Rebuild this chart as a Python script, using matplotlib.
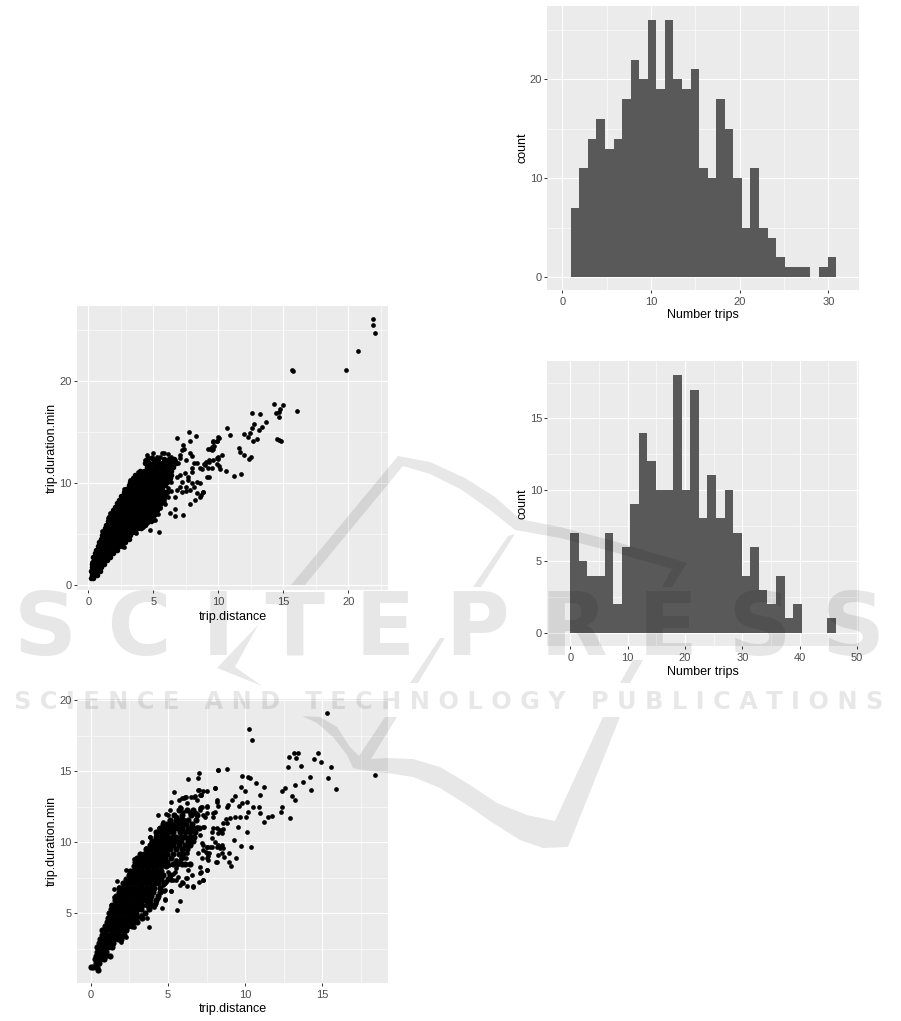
import matplotlib
matplotlib.use("Agg")
import matplotlib.pyplot as plt
from matplotlib.patches import Polygon
from matplotlib.transforms import Affine2D

plt.rcParams['font.family'] = ['Liberation Sans', 'DejaVu Sans']

# ---- histograms -----
trips_a_counts = [7, 11, 14, 16, 13, 14, 18, 22, 20, 26, 19, 26, 20, 19, 21, 11,
                  10, 18, 15, 10, 5, 11, 5, 4, 2, 1, 1, 1, 0, 1, 2]
trips_a_start, trips_a_width = 0.95, 0.965
trips_b_counts = [7, 5, 4, 4, 7, 2, 6, 9, 14, 12, 10, 10, 18, 10, 17, 8,
                  11, 8, 10, 7, 4, 6, 3, 2, 4, 1, 2, 0, 0, 0, 1]
trips_b_start, trips_b_width = 0.0, 1.495

# ---- scatter A: rows of the solid cloud, (duration, [distances]) -----
cloud_a = [
 (0.7,[.22,.38]),(1.05,[.25,.48,.68]),(1.4,[.22,.42,.68,.88]),(1.75,[.25,.52,.78,1.0]),
 (2.1,[.3,.55,.82,1.08,1.22]),(2.45,[.42,.68,.95,1.2,1.42]),(2.8,[.4,.65,.92,1.2,1.48,1.65]),
 (3.15,[.55,.82,1.1,1.38,1.66,1.9]),(3.5,[.62,.9,1.18,1.46,1.74,2.02,2.2]),
 (3.85,[.72,1.0,1.28,1.56,1.84,2.12,2.4,2.62]),(4.2,[.85,1.13,1.41,1.69,1.97,2.25,2.53,2.8]),
 (4.55,[.95,1.23,1.51,1.79,2.07,2.35,2.63,2.91,3.1]),(4.9,[1.02,1.3,1.58,1.86,2.14,2.42,2.7,2.98,3.22]),
 (5.25,[1.12,1.4,1.68,1.96,2.24,2.52,2.8,3.08,3.36,3.62]),
 (5.6,[1.28,1.56,1.84,2.12,2.4,2.68,2.96,3.24,3.52,3.8,4.05]),
 (5.95,[1.36,1.64,1.92,2.2,2.48,2.76,3.04,3.32,3.6,3.88,4.16,4.4]),
 (6.3,[1.5,1.78,2.06,2.34,2.62,2.9,3.18,3.46,3.74,4.02,4.3,4.58,4.85]),
 (6.65,[1.6,1.88,2.16,2.44,2.72,3.0,3.28,3.56,3.84,4.12,4.4,4.68,4.96]),
 (7.0,[1.78,2.06,2.34,2.62,2.9,3.18,3.46,3.74,4.02,4.3,4.58,4.86,5.14]),
 (7.35,[1.92,2.2,2.48,2.76,3.04,3.32,3.6,3.88,4.16,4.44,4.72,5.0,5.28]),
 (7.7,[2.08,2.36,2.64,2.92,3.2,3.48,3.76,4.04,4.32,4.6,4.88,5.16,5.44]),
 (8.05,[2.2,2.48,2.76,3.04,3.32,3.6,3.88,4.16,4.44,4.72,5.0,5.28,5.56]),
 (8.4,[2.38,2.66,2.94,3.22,3.5,3.78,4.06,4.34,4.62,4.9,5.18,5.46,5.74]),
 (8.75,[2.55,2.83,3.11,3.39,3.67,3.95,4.23,4.51,4.79,5.07,5.35,5.63,5.9]),
 (9.1,[2.72,3.0,3.28,3.56,3.84,4.12,4.4,4.68,4.96,5.24,5.52,5.8,6.05]),
 (9.45,[2.9,3.18,3.46,3.74,4.02,4.3,4.58,4.86,5.14,5.42,5.7]),
 (9.8,[3.1,3.38,3.66,3.94,4.22,4.5,4.78,5.06,5.34,5.62,5.9]),
 (10.15,[3.22,3.5,3.78,4.06,4.34,4.62,4.9,5.18,5.46,5.74,6.02]),
 (10.5,[3.45,3.73,4.01,4.29,4.57,4.85,5.13,5.41,5.69,5.97,6.25]),
 (10.85,[3.6,3.88,4.16,4.44,4.72,5.0,5.28,5.56,5.84,6.12,6.4]),
 (11.2,[4.0,4.28,4.56,4.84,5.12,5.4,5.7,6.0,6.35]),
 (11.55,[4.55,4.85,5.2,5.5,5.85,6.2,6.55]),
 (12.0,[4.4,4.7,5.05,5.35,5.7,6.05,6.4,6.75]),
 (12.4,[4.5,5.0,5.4,5.8,6.2,6.6]),
]
# (distance, duration) of the points that stand apart
loose_a = [
 (2.75,9.4),(1.7,7.05),(1.08,5.35),(.25,2.3),(5.45,5.25),(6.65,7.5),(6.25,7.05),(6.65,6.75),(7.25,6.9),
 (6.85,14.4),(7.75,15),(8.3,14.6),(7.85,14.1),(7.3,13.75),(7.2,13.3),(7.05,12.8),(7.35,13.4),(7.05,12.45),
 (7.55,12.3),(7.8,12.95),(7.95,12.7),(4.5,12.8),(5,13),(4.7,12.45),(5.5,12.6),(5.8,12.95),(6.1,12.9),
 (5.1,12),(4.5,11.8),(5,11.5),(5.75,12),(6.4,12.6),(6.65,12.3),(6.9,12),(5.4,12.3),(6.15,12.3),
 (6.4,10.15),(6.8,10.65),(7.05,10.8),(7.45,11),(7.7,10.65),(7.95,11.15),(8.35,12),(8.1,12),(7.95,11.5),
 (8.6,11.5),(9,11.8),(9.25,12.1),(9.6,12.3),(10,12.6),(9.25,10.65),(9.6,13.4),(9.9,14.1),(9.5,13.6),
 (10,14.5),(9.6,14.1),(9.35,13.35),(8.35,10.15),(7.95,10),(7.7,10.3),(8.1,9.65),(7.55,9.65),(7.2,10.15),
 (7.05,9.65),(6.8,9.35),(6.4,9.2),(6.15,9.5),(6.15,8.7),(6.65,8.7),(7.2,9.1),(7.55,9.2),(7.85,9.3),
 (8.35,9),(8.85,9.1),(8.6,8.7),(8.2,8.35),(7.85,7.95),(5.9,8),(5.8,8.5),(5.5,7.7),(5.4,7),(5,6.4),
 (21.9,26.1),(21.9,25.5),(22.05,24.7),(20.75,22.95),(19.8,21.1),(15.77,21.05),(15.7,21.1),
 (14.28,17.75),(14.95,17.65),(14.74,17.25),(14.7,17.0),(14.44,16.85),(14.67,16.45),(16.05,17.05),
 (12.56,16.9),(13.2,16.75),(13.67,16),(12.77,15.85),(13.4,15.55),(12.6,15.4),(13.15,15.2),(12.44,14.9),
 (11.97,14.8),(12.3,14.57),(12.95,14.35),(12.64,14.1),(14.54,14.3),(14.69,14.2),(14.82,14.1),(10.67,15.4),
 (10.92,14.7),(10.05,14.45),(9.87,14.1),(9.62,14),(9.67,13.65),(9.54,13.25),(9.23,13.36),(11.59,13.46),
 (11.67,13.1),(11.95,12.77),(12.49,12.6),(12.36,12.4),(10.31,12.77),(9.87,12.5),(10,12.4),(9.31,12.3),
 (9.05,12.1),(8.9,11.9),(9.87,11.85),(10.08,11.7),(10.13,11.37),(10.59,11.17),(9.54,11.47),(9.18,11.53),
 (8.72,11.37),(9.1,10.6),(11.18,10.75),(11.77,10.9),(8.85,9.1),(8.67,8.82),(8.6,10.07),
 (2.77,3.8),(3.7,5.1),(4.2,5.75),(4.5,6.1),(5.1,6.4),(5.2,7.05),(5.8,8.2),(5.5,7.55),(4.75,5.4),
 (1.54,6.55),(2.2,7.7),(2.45,8.2),(3.2,10.3),(3.35,10.15),(3.85,11.1),(4.1,11.15),(4.36,12.3),(4.87,12.6),
 (5.26,12.6),(5.64,12.95),
]

# ---- scatter B -----
cloud_b = [
 (1.2,[.02,.12,.39]),(1.0,[.5]),(1.5,[.35,.55]),(1.75,[.3,.6,.85]),(2.0,[.35,.55,.75,.95,1.25]),
 (2.3,[.42,.65,.8,1.0]),(2.6,[.4,.6,.75,.95,1.1,1.35]),(2.9,[.55,.7,.95,1.2,1.45]),
 (3.2,[.6,.75,1.0,1.2,1.5,1.75,1.95]),(3.5,[.7,.9,1.2,1.4,1.65,1.85,2.15]),
 (3.8,[.75,1.0,1.3,1.55,1.8,2.05,2.3]),(4.1,[.9,1.15,1.4,1.6,1.9,2.15,2.4,2.7]),
 (4.4,[1.05,1.25,1.5,1.75,2,2.25,2.5,2.8,3.0]),(4.7,[1.15,1.4,1.65,1.9,2.15,2.4,2.65,2.85,3.3]),
 (5.0,[1.2,1.45,1.7,1.95,2.2,2.45,2.7,2.95,3.5]),(5.3,[1.3,1.5,1.75,2,2.25,2.5,2.75,3.0,3.25,3.75]),
 (5.6,[1.4,1.65,1.9,2.15,2.4,2.65,2.9,3.15,3.35,3.65,3.95]),
 (5.9,[1.55,1.8,2.05,2.3,2.55,2.8,3.05,3.3,3.55,3.85,4.2]),
 (6.2,[1.65,1.9,2.15,2.4,2.65,2.9,3.15,3.4,3.65,3.9,4.35]),
 (6.5,[1.8,2.05,2.3,2.55,2.8,3.05,3.3,3.55,3.8,4.05,4.5]),
 (6.8,[1.85,2.1,2.35,2.6,2.85,3.1,3.35,3.6,3.85,4.1,4.5]),
 (7.1,[2.1,2.35,2.6,2.85,3.1,3.35,3.6,3.85,4.1,4.35,4.75]),
 (7.4,[2.3,2.55,2.8,3.05,3.3,3.55,3.8,4.05,4.3,4.55,5.0]),
 (7.7,[2.45,2.7,2.95,3.2,3.45,3.7,3.95,4.2,4.45,4.7,5.15]),
 (8.0,[2.55,2.8,3.05,3.3,3.55,3.8,4.05,4.3,4.55]),
 (8.3,[2.8,3.05,3.3,3.55,3.8,4.05,4.3,4.55,4.85]),
 (8.6,[2.85,3.1,3.35,3.6,3.85,4.1,4.35,4.6,4.95]),
 (8.9,[3.0,3.25,3.5,3.75,4,4.25,4.5,4.8,5.2]),
 (9.2,[3.2,3.45,3.7,3.95,4.2,4.45,4.7,4.95,5.3,5.7,6.0]),
 (9.5,[3.6,3.85,4.1,4.35,4.6,4.85,5.1,5.55,5.9,6.2]),
 (9.8,[3.85,4.1,4.35,4.6,4.85,5.1,5.35,5.7,6.1,6.4]),
 (10.1,[3.95,4.2,4.45,4.7,4.95,5.2,5.5,5.85,6.3,6.6]),
 (10.4,[4.2,4.45,4.7,4.95,5.25,5.5,5.85,6.1,6.4,6.7]),
 (10.7,[4.25,4.55,4.8,5.0,5.35,5.75,6.1,6.45,6.75]),
 (11.0,[4.5,4.75,5.05,5.3,5.6,5.9,6.3,6.6,7.0]),
 (11.3,[4.7,4.95,5.25,5.55,5.85,6.15,6.55]),
 (11.6,[5.1,5.55,5.8,6.0,6.3,6.8]),
 (11.9,[5.4,5.9,6.5,6.9]),
 (12.3,[5.7,6.2,6.6]),
 (8.5,[5.3,5.6,5.9,6.1,6.4]),
]
loose_b = [
 (15.29,19.13),(10.24,17.98),(10.44,17.2),(18.4,14.75),(13.18,16.3),(13.39,16.27),(12.85,16.04),(13.31,15.94),
 (14.73,16.27),(14.47,15.87),(14.9,15.66),(12.74,15.28),(13.59,15.4),(15.53,15.28),(15.35,14.5),(14.19,14.58),
 (13.74,14.25),(13.2,14.04),(15.87,13.78),(14.25,13.66),(12.57,13.83),(12.4,13.62),(13.02,13.24),(13.2,13),
 (11.19,13.9),(10.98,13.31),(10.69,14.16),(10.31,14.51),(10.15,14.63),(9.81,14.65),(9.75,13.9),(9.98,13.62),
 (8.26,15.1),(8.82,15.17),(8.04,13.83),(7.52,13.62),(7.13,13.34),(9.34,13.24),(9.16,12.96),(8.19,12.96),
 (10.09,12.82),(9.77,12.77),(9.62,12.58),(8.9,12.63),(8.8,12.51),(8.26,12.58),(7.5,12.58),(7.18,12.51),
 (10.48,12.51),(10.87,12.51),(12.36,12.47),(12.29,12.16),(10.2,12.12),(10.98,12.05),(11.73,11.88),(11.47,11.76),
 (10.03,11.81),(11.23,11.46),(12.9,11.69),(9.66,11.76),(9.34,11.76),(9,11.69),(8.73,11.62),(8.8,11.34),
 (8.58,11.34),(8.04,12.12),(7.93,11.81),(7.5,12.05),(7.39,11.81),(7.33,11.1),(9.51,11.1),(10.09,10.75),
 (9.29,10.17),(9.75,9.77),(10.37,9.65),(8.97,9.23),(9.4,8.92),(8.95,8.6),(9.08,8.36),(8.08,8.64),(7.54,8.88),
 (7.5,8.05),(7.29,7.35),(7.18,8.88),(7.13,7.94),(7.93,11),(8.15,11.04),(8.36,10.87),(8.58,10.92),(8.26,10.68),
 (8.47,10.64),(7.83,10.75),(7.83,10.28),(8.04,10.05),(8.26,9.81),(8.47,9.81),(8.58,9.58),(8.36,9.58),(8.15,9.7),
 (8.47,9.23),(8.26,9.11),(8.62,8.99),(7.72,9.7),(7.5,9.7),(7.29,9.81),(7.46,9.34),(7.67,9.23),(7.61,9),(7.24,9.46),
 (3.3,10.05),(3.84,10.92),(3.84,10.4),(4.38,11.93),(4.88,11.97),(5.2,12.82),(5.41,13.57),(6.32,14.44),(6.97,14.5),
 (7.03,14.91),(8.22,15.1),(8.05,13.85),(6.97,13.69),(7.29,13.62),(6.75,13.27),(7.08,13.34),(6.1,13.22),(5.89,13.1),
 (6.21,12.75),(6.86,12.98),(5.78,12.51),(5.13,12.28),(5.57,11.81),(6,12.16),(6.43,12.04),(6.75,12.04),(7.08,12.4),
 (7.51,12.51),(7.29,11.93),(7.94,12.04),(8.15,12.87),(6.1,11.46),(6.43,10.87),(6.86,11.1),(7.29,11.1),(7.08,10.52),
 (7.18,9.93),(7.51,9.7),(7.83,9.7),(6.97,9.23),(7.51,9.23),(7.62,8.76),(8.15,8.64),(6.21,9.23),(5.78,8.76),
 (5.57,8.52),(6,8.88),(6.32,8.05),(7.08,8.29),(7.51,8.05),(7.08,7.87),(6.54,7.7),(6.21,7.47),(5.89,7.23),(6.21,6.93),
 (6.6,6.88),(7.03,7.19),(7.29,7.35),(5.78,7),(5.46,7.94),(5.13,7.47),(4.81,7.23),(5.35,7.35),(5.67,7.58),(4.81,6.65),
 (5.18,6.6),(4.81,6.0),(5.78,5.87),(5.59,5.24),(4.6,5.38),(3.77,4.06),(3.62,4.65),(4.16,5.59),(3.84,5.59),(4.38,6.06),
 (5.52,8.75),(5.85,8.87),(6.17,8.91),(5.41,8.51),(1.7,7.27),(1.49,6.68),(1.53,6.17),(1.32,5.58),(2.29,8.05),
 (2.83,8.82),(3.86,10.35),(4.83,5.93),(4.77,6.59),(5.2,6.59),
 (1.96,3.0),(2.29,3.35),(2.83,4.05),(3.04,4.76),(3.26,4.88),(4.12,5.46),(3.9,5.7),(4.23,5.7),(4.55,6.64),(4.66,7.0),
 (4.88,7.2),(5.2,7.34),(4.98,7.93),(5.3,7.8),(5.52,8.16),(5.09,8.4),(5.52,7.34),(5.95,7.1),(6.17,7.46),(6.6,6.92),
 (2.93,8.87),(2.5,7.8),(2.29,7.34),(1.85,6.87),(3.19,9.2),(3.58,9.57),(3.9,9.92),(4.23,10.5),(4.44,10.98),(4.7,11.45),
 (4.98,11.92),(5.52,11.75),(5.85,12.4),(6.06,13.1),(5.74,12.97),(6.17,13.2),(6.49,13.2),(7.08,12.27),(6.49,12.04),
 (6.82,12.04),(7.14,12.5),(6.71,13.2),(7.14,13.3),(7,13.7),
]

def unpack_rows(rows):
    return [x for _, r in rows for x in r], [y for y, r in rows for _ in r]

W, H = 901, 1021
fig = plt.figure(figsize=(W / 100, H / 100), dpi=100, facecolor='white')

def panel(left, top, right, bottom, xlim, ylim, xt, xm, yt, ym, xl, yl, xl_y, yl_x):
    ax = fig.add_axes([left / W, 1 - bottom / H, (right - left) / W, (bottom - top) / H])
    ax.set_facecolor('#EBEBEB')
    for s in ax.spines.values():
        s.set_visible(False)
    ax.set_xlim(*xlim); ax.set_ylim(*ylim)
    ax.set_xticks(xt); ax.set_xticks(xm, minor=True)
    ax.set_yticks(yt); ax.set_yticks(ym, minor=True)
    ax.grid(True, which='major', color='white', lw=0.8)
    ax.grid(True, which='minor', color='white', lw=0.4)
    ax.set_axisbelow(True)
    ax.tick_params(which='major', length=2.2, width=0.7, color='#333333',
                   labelcolor='#4D4D4D', labelsize=8)
    ax.tick_params(axis='x', which='major', pad=3.0)
    ax.tick_params(axis='y', which='major', pad=1.6)
    ax.tick_params(which='minor', length=0)
    ax.set_xlabel(xl, fontsize=9, color='black', va='center')
    ax.set_ylabel(yl, fontsize=9, color='black', va='center')
    ax.xaxis.set_label_coords(0.5, (bottom - xl_y) / (bottom - top))
    ax.yaxis.set_label_coords((yl_x - left) / (right - left), 0.5)
    return ax

# top-right histogram
ax1 = panel(547.3, 6, 859, 290, (-1.69, 33.45), (-1.3, 27.42),
            [0, 10, 20, 30], [5, 15, 25], [0, 10, 20], [5, 15, 25], 'Number trips', 'count', 315, 522)
ax1.bar([trips_a_start + i * trips_a_width for i in range(len(trips_a_counts))], trips_a_counts,
        width=trips_a_width, align='edge', color='#595959', lw=0)

# second histogram
ax2 = panel(547.3, 361, 859, 645.7, (-4.0, 50.36), (-0.91, 19.01),
            [0, 10, 20, 30, 40, 50], [5, 15, 25, 35, 45], [0, 5, 10, 15], [2.5, 7.5, 12.5, 17.5],
            'Number trips', 'count', 672, 522)
ax2.bar([trips_b_start + i * trips_b_width for i in range(len(trips_b_counts))], trips_b_counts,
        width=trips_b_width, align='edge', color='#595959', lw=0)

# scatter A
ax3 = panel(76.7, 306, 388.3, 590, (-0.89, 23.08), (-0.46, 27.38),
            [0, 5, 10, 15, 20], [2.5, 7.5, 12.5, 17.5, 22.5], [0, 10, 20], [5, 15, 25],
            'trip.distance', 'trip.duration.min', 617, 52)
xa, ya = unpack_rows(cloud_a)
ax3.scatter(xa, ya, s=16, c='black', linewidths=0)
ax3.scatter([p[0] for p in loose_a], [p[1] for p in loose_a], s=11.5, c='black', linewidths=0)

# scatter B
ax4 = panel(76.7, 699.3, 388.3, 982.7, (-0.906, 19.26), (0.11, 20.07),
            [0, 5, 10, 15], [2.5, 7.5, 12.5, 17.5], [5, 10, 15, 20], [2.5, 7.5, 12.5, 17.5],
            'trip.distance', 'trip.duration.min', 1009, 52)
xb, yb = unpack_rows(cloud_b)
ax4.scatter(xb, yb, s=20, c='black', linewidths=0)
ax4.scatter([p[0] for p in loose_b], [p[1] for p in loose_b], s=11.5, c='black', linewidths=0)

# ---- watermark laid over everything -----
wm = dict(color='black', alpha=0.095, zorder=20)
px = Affine2D().scale(1, -1).translate(0, H)
logo_shapes = [
    [(291,585),(398,456),(430,462),(465,478),(495,497),(520,519),(560,527),(610,540),(687,563),
     (672,587),(662,587),(672,569),(610,551),(560,538),(515,530),(490,510),(462,490),(430,474),(403,466),(305,585)],
    [(508,536),(515,534),(481,587),(473,587)],
    [(440,638),(445,638),(418,683),(410,683)],
    [(258,625),(217,668),(262,686),(235,667)],
    [(643,660),(633,660),(620,683),(630,683)],
    [(302,716),(320,717),(337,727),(350,747),(359,756),(385,717),(397,717),(371,759),(387,758),(413,759),
     (440,767),(467,783),(497,803),(527,815),(555,821),(603,717),(620,717),(568,847),(543,848),(520,840),
     (493,823),(467,805),(440,788),(413,777),(387,773),(362,770),(353,768),(347,755),(333,737),(317,723)],
]
for shape in logo_shapes:
    fig.add_artist(Polygon(shape, closed=True, transform=px, lw=0, **wm))
fig.text(450 / W, 1 - 655 / H, 'S C I T E P R E S S', fontsize=63, fontweight='bold', family='DejaVu Sans',
         ha='center', va='baseline', **wm)
fig.text(449 / W, 1 - 709 / H, 'S C I E N C E   A N D   T E C H N O L O G Y   P U B L I C A T I O N S',
         fontsize=17.4, fontweight='bold', family='DejaVu Sans', ha='center', va='baseline', **wm)

fig.savefig('out.png', dpi=100, facecolor='white')
